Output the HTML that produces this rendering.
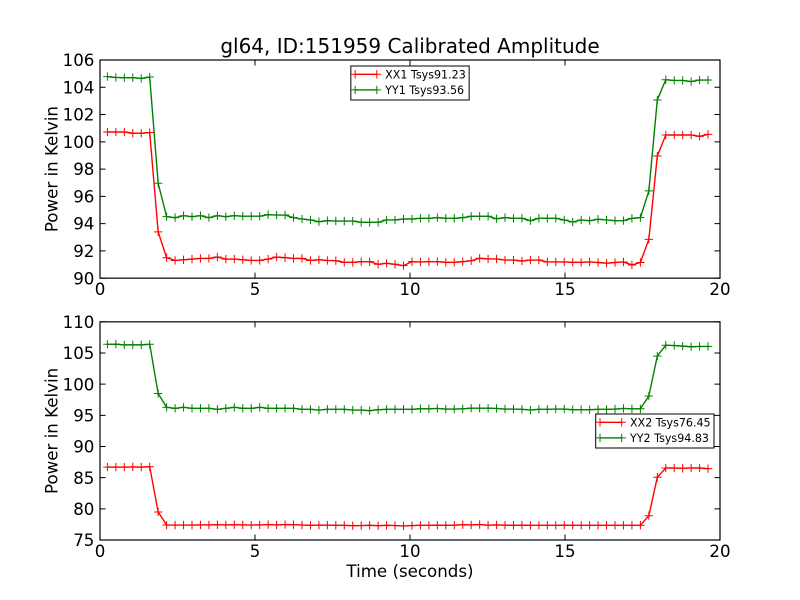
<!DOCTYPE html>
<html>
<head>
<meta charset="utf-8">
<style>
html,body{margin:0;padding:0;background:#fff;}
svg{display:block;}
text{font-family:"DejaVu Sans","Liberation Sans",sans-serif;fill:#000;}
</style>
</head>
<body>
<svg id="fig" width="800" height="600" viewBox="0 0 800 600" xmlns="http://www.w3.org/2000/svg">
<rect x="0" y="0" width="800" height="600" fill="#fff"/>
<text x="410" y="53" font-size="20" text-anchor="middle">gl64, ID:151959 Calibrated Amplitude</text>
<g id="top"></g>
<g id="bot"></g>
<text x="410" y="577" font-size="16.67" text-anchor="middle">Time (seconds)</text>
<text transform="translate(57.5,169.1) rotate(-90)" font-size="16.67" text-anchor="middle">Power in Kelvin</text>
<text transform="translate(57.5,430.9) rotate(-90)" font-size="16.67" text-anchor="middle">Power in Kelvin</text>
</svg>
<script>
(function(){
var X0=100,X1=720;
function fx(i){return 107.4+8.46*i;}
function build(gid,top,bot,vmin,vmax,step,series,legend){
  var g=document.getElementById(gid);
  var h=bot-top, s='';
  function fy(v){return bot-(v-vmin)/(vmax-vmin)*h;}
  s+='<clipPath id="c'+gid+'"><rect x="'+X0+'" y="'+top+'" width="'+(X1-X0)+'" height="'+h+'"/></clipPath>';
  s+='<g clip-path="url(#c'+gid+')">';
  series.forEach(function(se){
    var pts=se.d.map(function(v,i){return fx(i).toFixed(2)+','+fy(v).toFixed(2);}).join(' ');
    s+='<polyline points="'+pts+'" fill="none" stroke="'+se.c+'" stroke-width="1.39" stroke-linejoin="round"/>';
    var m='';
    se.d.forEach(function(v,i){var x=fx(i),y=fy(v);m+='M'+(x-4.17).toFixed(2)+' '+y.toFixed(2)+'h8.34M'+x.toFixed(2)+' '+(y-4.17).toFixed(2)+'v8.34';});
    s+='<path d="'+m+'" stroke="'+se.c+'" stroke-width="1" fill="none"/>';
  });
  s+='</g>';
  // ticks
  var tk='';
  for(var t=0;t<=20;t+=5){
    var x=X0+(X1-X0)*t/20;
    tk+='M'+x+' '+bot+'v-5.56M'+x+' '+top+'v5.56';
    s+='<text x="'+x+'" y="'+(bot+16.8)+'" font-size="16.67" text-anchor="middle">'+t+'</text>';
  }
  for(var v=vmin;v<=vmax+1e-9;v+=step){
    var y=fy(v);
    tk+='M'+X0+' '+y+'h5.56M'+X1+' '+y+'h-5.56';
    s+='<text x="94.4" y="'+(y+6.1).toFixed(2)+'" font-size="16.67" text-anchor="end">'+v+'</text>';
  }
  s+='<path d="'+tk+'" stroke="#000" stroke-width="1" fill="none"/>';
  s+='<rect x="'+X0+'" y="'+top+'" width="'+(X1-X0)+'" height="'+h+'" fill="none" stroke="#000" stroke-width="1.2"/>';
  // legend
  var L=legend;
  s+='<rect x="'+L.x+'" y="'+L.y+'" width="118.3" height="34" fill="#fff" stroke="#000" stroke-width="1"/>';
  series.forEach(function(se,k){
    var y=L.y+8.3+k*15.6;
    var a=L.x+4.3,b=L.x+26;
    s+='<path d="M'+a+' '+y+'H'+b+'" stroke="'+se.c+'" stroke-width="1.39"/>';
    s+='<path d="M'+(a-4.17)+' '+y+'h8.34M'+a+' '+(y-4.17)+'v8.34M'+(b-4.17)+' '+y+'h8.34M'+b+' '+(y-4.17)+'v8.34" stroke="'+se.c+'" stroke-width="1"/>';
    s+='<text x="'+(L.x+34.3)+'" y="'+(y+4)+'" font-size="11.1">'+se.n+'</text>';
  });
  g.innerHTML=s;
}
var r1=[100.72,100.72,100.72,100.63,100.63,100.68,93.4,
91.5,91.3,91.35,91.4,91.45,91.45,91.55,91.4,91.4,91.35,91.3,91.3,91.4,91.55,91.5,91.45,91.45,91.3,91.35,91.3,
91.28,91.16,91.16,91.21,91.21,91.02,91.09,91.02,90.92,91.21,91.19,91.21,91.21,91.16,91.16,91.21,91.28,91.46,91.41,91.41,91.33,91.33,91.26,91.33,91.33,91.19,91.19,91.19,91.16,91.16,
91.19,91.15,91.1,91.15,91.19,90.97,91.15,
92.85,98.96,100.5,100.5,100.5,100.5,100.4,100.55];
var g1=[104.78,104.72,104.7,104.7,104.65,104.75,96.96,
94.51,94.44,94.58,94.51,94.58,94.44,94.58,94.51,94.58,94.55,94.55,94.55,94.66,94.63,94.63,94.44,94.34,94.27,94.14,94.22,
94.19,94.19,94.19,94.10,94.10,94.10,94.27,94.27,94.34,94.34,94.39,94.39,94.44,94.39,94.39,94.44,94.54,94.54,94.54,94.36,94.44,94.39,94.39,94.22,94.39,94.39,94.39,94.27,94.12,94.27,
94.22,94.32,94.27,94.22,94.22,94.39,94.44,
96.4,103.07,104.55,104.5,104.5,104.42,104.53,104.53];
var r2=[86.7,86.7,86.7,86.72,86.7,86.75,79.5,
77.4,77.4,77.4,77.4,77.42,77.42,77.45,77.42,77.45,77.42,77.4,77.42,77.48,77.42,77.48,77.45,77.4,77.35,77.4,77.38,
77.35,77.35,77.3,77.32,77.35,77.3,77.35,77.32,77.25,77.32,77.35,77.35,77.38,77.35,77.38,77.45,77.42,77.48,77.38,77.42,77.38,77.35,77.38,77.35,77.35,77.35,77.35,77.38,77.35,77.35,
77.35,77.35,77.35,77.35,77.35,77.35,77.35,
78.9,85.06,86.55,86.55,86.5,86.55,86.55,86.45];
var g2=[106.4,106.42,106.3,106.3,106.3,106.4,98.5,
96.28,96.12,96.28,96.12,96.12,96.12,95.96,96.12,96.28,96.12,96.12,96.28,96.12,96.12,96.12,96.12,95.96,95.96,95.85,95.96,
95.96,95.96,95.85,95.85,95.75,95.9,95.96,95.96,95.96,95.96,96.05,96.05,96.1,96.0,96.0,96.05,96.15,96.15,96.15,96.1,96.0,96.0,95.96,95.85,95.96,95.96,96.0,96.0,95.9,95.9,
95.9,95.96,95.96,96.0,96.1,96.05,96.05,
98.1,104.5,106.25,106.2,106.1,106.0,106.05,106.05];
build('top',60,278.18,90,106,2,
  [{d:r1,c:'#ff0000',n:'XX1 Tsys91.23'},{d:g1,c:'#008000',n:'YY1 Tsys93.56'}],
  {x:350.85,y:66});
build('bot',321.82,540,75,110,5,
  [{d:r2,c:'#ff0000',n:'XX2 Tsys76.45'},{d:g2,c:'#008000',n:'YY2 Tsys94.83'}],
  {x:595.7,y:414});
})();
</script>
</body>
</html>
